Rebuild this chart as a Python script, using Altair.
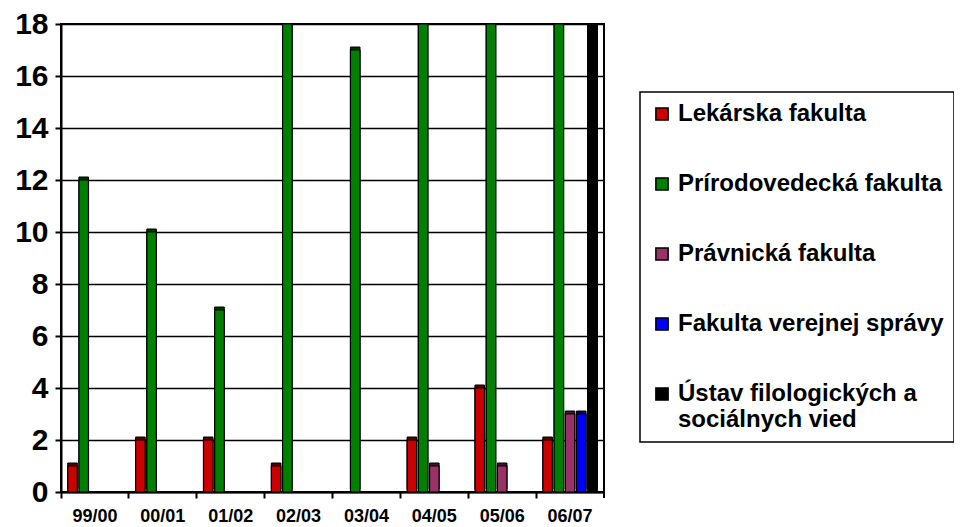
import altair as alt
import pandas as pd

categories = ["99/00", "00/01", "01/02", "02/03", "03/04", "04/05", "05/06", "06/07"]
series = [
    "Lekárska fakulta",
    "Prírodovedecká fakulta",
    "Právnická fakulta",
    "Fakulta verejnej správy",
    "Ústav filologických a sociálnych vied",
]
colors = ["#CC0000", "#008000", "#993366", "#0000FF", "#000000"]

lekarska = [1, 2, 2, 1, 0, 2, 4, 2]
prirodovedecka = [12, 10, 7, 18, 17, 18, 18, 18]
pravnicka = [0, 0, 0, 0, 0, 1, 1, 3]
verejna_sprava = [0, 0, 0, 0, 0, 0, 0, 3]
ustav = [0, 0, 0, 0, 0, 0, 0, 18]

values = [lekarska, prirodovedecka, pravnicka, verejna_sprava, ustav]
rows = []
for s, vals in zip(series, values):
    for c, v in zip(categories, vals):
        if v > 0:
            rows.append({"rok": c, "fakulta": s, "pocet": v})
df = pd.DataFrame(rows)

FONT = "Liberation Sans"

x_enc = alt.X(
    "rok:N",
    sort=categories,
    scale=alt.Scale(domain=categories, paddingInner=0, paddingOuter=0),
    axis=alt.Axis(
        title=None,
        bandPosition=0,
        labelAngle=0,
        labelFont=FONT,
        labelFontSize=18,
        labelFontWeight="bold",
        labelColor="black",
        labelPadding=9,
        tickSize=6,
        tickWidth=2,
        tickColor="black",
        domainColor="black",
        domainWidth=2,
        grid=False,
    ),
)
xoff_enc = alt.XOffset(
    "fakulta:N",
    sort=series,
    scale=alt.Scale(domain=series, paddingInner=0.15, paddingOuter=0.6),
)
y_enc = alt.Y(
    "pocet:Q",
    scale=alt.Scale(domain=[0, 18], nice=False),
    axis=alt.Axis(
        title=None,
        values=[0, 2, 4, 6, 8, 10, 12, 14, 16, 18],
        labelFont=FONT,
        labelFontSize=30,
        labelFontWeight="bold",
        labelColor="black",
        labelPadding=7,
        tickSize=6,
        tickWidth=2,
        tickColor="black",
        domainColor="black",
        domainWidth=2,
        grid=True,
        gridColor="black",
        gridWidth=1.5,
    ),
)
color_enc = alt.Color(
    "fakulta:N",
    sort=series,
    scale=alt.Scale(domain=series, range=colors),
    legend=alt.Legend(
        title=None,
        orient="none",
        legendX=579,
        legendY=68,
        labelExpr="datum.label == 'Ústav filologických a sociálnych vied' ? ['Ústav filologických a', 'sociálnych vied'] : datum.label",
    ),
)

base = alt.Chart(df).encode(x=x_enc, xOffset=xoff_enc, y=y_enc)

side = base.mark_bar(
    xOffset=3, x2Offset=3, yOffset=-3, y2Offset=-3, clip=True, stroke="black", strokeWidth=1
).encode(color=color_enc)
side_dark = base.mark_bar(
    xOffset=3, x2Offset=3, yOffset=-3, y2Offset=-3, clip=True, fill="black", opacity=0.6
).encode()
front = base.mark_bar(clip=True, stroke="black", strokeWidth=1.2).encode(color=color_enc)

end_tick = alt.Chart(pd.DataFrame({"k": [0]})).mark_rule(color="black", strokeWidth=2).encode(
    x=alt.value(543), y=alt.value(468), y2=alt.value(474)
)

chart = (
    alt.layer(side, side_dark, front, end_tick)
    .properties(
        width=543,
        height=468,
        autosize=alt.AutoSizeParams(type="none"),
        padding={"left": 53, "top": 16, "right": 350, "bottom": 35},
    )
    .configure_view(stroke="black", strokeWidth=2)
    .configure_legend(
        strokeColor="black",
        strokeWidth=1.5,
        padding=10,
        labelFont=FONT,
        labelFontSize=24,
        labelFontWeight="bold",
        labelColor="black",
        labelLimit=500,
        symbolType="square",
        symbolSize=150,
        symbolStrokeColor="black",
        symbolStrokeWidth=1.5,
        symbolOpacity=1,
        rowPadding=46,
        labelOffset=4,
    )
)

chart.save("out.html", embed_options={"renderer": "svg", "actions": False})
